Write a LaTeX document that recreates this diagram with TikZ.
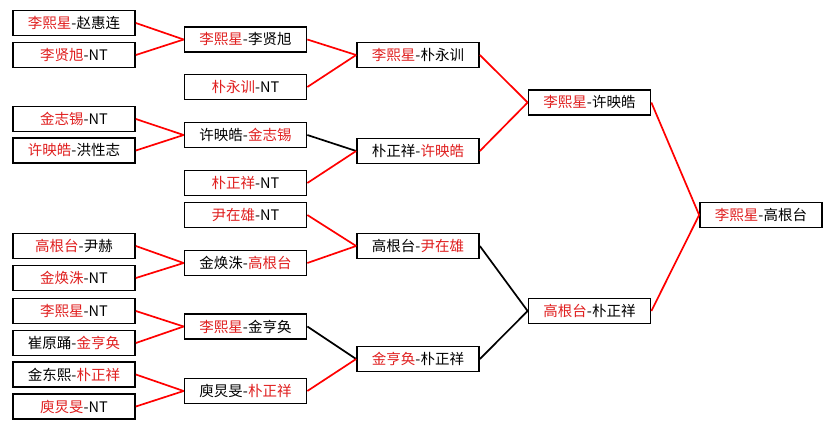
\documentclass[tikz,border=0pt]{standalone}
\usepackage{fontspec}
\newfontfamily\cjk{Noto Sans CJK SC}
\definecolor{winred}{rgb}{0.88, 0.12, 0.12}
\newcommand{\wn}[1]{\textcolor{winred}{#1}}
\tikzset{
  player/.style={draw, line width=1.7pt, fill=white, minimum width=122pt,
    minimum height=25pt, inner sep=0pt,
    font=\cjk\fontsize{14.5}{16}\selectfont},
  link/.style={line width=1.7pt}
}

\begin{document}
\begin{tikzpicture}[x=1pt,y=-1pt]
\useasboundingbox[fill=white] (0,0) rectangle (832,429);
% round 1
\node[player] (a1) at (74,23) {\wn{李熙星}-赵惠连};
\node[player] (a2) at (74,55) {\wn{李贤旭}-NT};
\node[player] (a3) at (74,119) {\wn{金志锡}-NT};
\node[player] (a4) at (74,150.5) {\wn{许映皓}-洪性志};
\node[player] (a5) at (74,246) {\wn{高根台}-尹赫};
\node[player] (a6) at (74,278) {\wn{金焕洙}-NT};
\node[player] (a7) at (74,311) {\wn{李熙星}-NT};
\node[player] (a8) at (74,343) {崔原踊-\wn{金亨奂}};
\node[player] (a9) at (74,374.5) {金东熙-\wn{朴正祥}};
\node[player] (a10) at (74,406.5) {\wn{庾炅旻}-NT};
% round 2
\node[player] (b1) at (245.5,39.5) {\wn{李熙星}-李贤旭};
\node[player] (b2) at (245.5,87) {\wn{朴永训}-NT};
\node[player] (b3) at (245.5,135) {许映皓-\wn{金志锡}};
\node[player] (b4) at (245.5,183) {\wn{朴正祥}-NT};
\node[player] (b5) at (245.5,215) {\wn{尹在雄}-NT};
\node[player] (b6) at (245.5,263) {金焕洙-\wn{高根台}};
\node[player] (b7) at (245.5,326.5) {\wn{李熙星}-金亨奂};
\node[player] (b8) at (245.5,391) {庾炅旻-\wn{朴正祥}};
% round 3
\node[player] (c1) at (418,55) {\wn{李熙星}-朴永训};
\node[player] (c2) at (418,151) {朴正祥-\wn{许映皓}};
\node[player] (c3) at (418,246) {高根台-\wn{尹在雄}};
\node[player] (c4) at (418,359) {\wn{金亨奂}-朴正祥};
% semi final
\node[player] (d1) at (589.5,102.5) {\wn{李熙星}-许映皓};
\node[player] (d2) at (589.5,311) {\wn{高根台}-朴正祥};
% final
\node[player] (f) at (761,215) {\wn{李熙星}-高根台};
\foreach \s/\t/\c in {a1/b1/red,a2/b1/red,a3/b3/red,a4/b3/red,a5/b6/red,
  a6/b6/red,a7/b7/red,a8/b7/red,a9/b8/red,a10/b8/red,
  b1/c1/red,b2/c1/red,b3/c2/black,b4/c2/red,b5/c3/red,b6/c3/red,
  b7/c4/black,b8/c4/red,c1/d1/red,c2/d1/red,c3/d2/black,c4/d2/black,
  d1/f/red,d2/f/red} {
  \draw[link,\c] (\s.east) -- (\t.west);
}
\end{tikzpicture}
\end{document}
